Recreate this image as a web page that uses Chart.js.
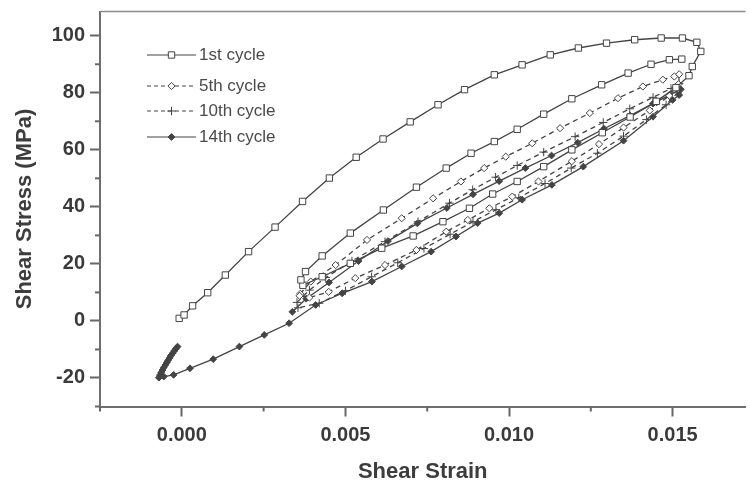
<!DOCTYPE html>
<html>
<head>
<meta charset="utf-8">
<script src="https://cdn.jsdelivr.net/npm/chart.js@4.4.1/dist/chart.umd.min.js"></script>
<style>
  html, body { margin: 0; padding: 0; background: #fff; }
  #wrap { width: 751px; height: 487px; position: relative; }
</style>
</head>
<body>
<div id="wrap"><canvas id="ch"></canvas></div>
<script>
// --- data ---
const cycleNames = ['1st cycle', '5th cycle', '10th cycle', '14th cycle'];

// 1st cycle: initial loading, unloading, reloading
const strain1 = [-0.00008, 0.00007, 0.00033, 0.00079, 0.00133, 0.00204, 0.00285, 0.00369, 0.00451, 0.00533, 0.00615, 0.00698,
  0.00783, 0.00864, 0.00955, 0.0104, 0.01126, 0.01212, 0.01298, 0.01384, 0.01465, 0.0153, 0.01574, 0.01586,
  0.0156, 0.0155, 0.0151, 0.0145, 0.0137, 0.01285, 0.01192, 0.01106, 0.01025, 0.0095, 0.00879, 0.00798, 0.00707, 0.00611, 0.00515, 0.00429, 0.0037,
  0.00364, 0.00378, 0.00429, 0.00515, 0.00616, 0.00717, 0.00808, 0.00884, 0.00955, 0.01025, 0.01106, 0.01192, 0.01283, 0.01364, 0.01434, 0.0149, 0.01528];
const stress1 = [0.9, 2.1, 5.3, 9.9, 16.1, 24.3, 32.9, 41.9, 50.1, 57.4, 63.8, 69.8,
  75.8, 81.1, 86.3, 89.8, 93.3, 95.7, 97.4, 98.6, 99.2, 99.2, 97.7, 94.5,
  89.2, 86, 81.8, 77, 71.5, 66, 60, 54.1, 48.9, 44.5, 39.5, 34.8, 29.8, 25.5, 20.2, 15.5, 12.5,
  14.4, 17.3, 22.8, 30.8, 38.9, 46.9, 53.6, 58.8, 62.9, 67.2, 72.5, 77.9, 82.8, 86.9, 90, 91.6, 91.8];

// 5th cycle
const strain5 = [0.00362, 0.00394, 0.0047, 0.00566, 0.00672, 0.00768, 0.00853, 0.00924, 0.0099, 0.01071, 0.01156, 0.01247, 0.01333, 0.01409, 0.0147, 0.01505, 0.0152,
  0.01518, 0.0149, 0.0143, 0.0135, 0.01275, 0.01192, 0.0109, 0.0101, 0.0094, 0.00874, 0.00808, 0.00717, 0.00621, 0.0053, 0.00449, 0.0039, 0.0036];
const stress5 = [9.5, 13.8, 19.6, 28.4, 36, 43, 48.9, 53.6, 57.6, 62.3, 67.6, 72.9, 78.1, 82.2, 84.6, 85.7, 86.5,
  83, 79, 73.8, 67.8, 62, 56, 48.9, 43.6, 39.5, 35.4, 31.3, 24.9, 19.6, 15, 10.2, 8.2, 8.8];

// 10th cycle
const strain10 = [0.00352, 0.0039, 0.0044, 0.0052, 0.00621, 0.00722, 0.00818, 0.00889, 0.00959, 0.01025, 0.01106, 0.01202, 0.01288, 0.01369, 0.0144, 0.01495, 0.0152,
  0.01515, 0.0148, 0.0142, 0.0135, 0.0127, 0.0119, 0.0111, 0.0103, 0.0096, 0.0089, 0.0082, 0.0074, 0.0066, 0.0058, 0.005, 0.0042, 0.00355];
const stress10 = [6.5, 10.8, 15.2, 21, 27.8, 34.8, 41.3, 46, 50.4, 54.5, 59.2, 64.6, 69.6, 74.4, 78.4, 81.5, 83.2,
  80, 75.8, 70.6, 64.8, 58.8, 53.6, 48.2, 43.2, 39, 34.8, 30.4, 25.4, 20.4, 15.5, 10.6, 6.2, 4.6];

// 14th cycle, then final unloading below zero strain
const strain14 = [0.00338, 0.0038, 0.0045, 0.0054, 0.0063, 0.0072, 0.0081, 0.0089, 0.0097, 0.0105, 0.0113, 0.0121, 0.0129, 0.0137, 0.0144, 0.0149, 0.01525,
  0.0152, 0.015, 0.0144, 0.0135, 0.01227, 0.01131, 0.0104, 0.0097, 0.00904, 0.00838, 0.00762, 0.00672, 0.00581, 0.0049, 0.00409, 0.00328,
  0.00252, 0.00176, 0.00096, 0.00025, -0.00025, -0.00055, -0.0007,
  -0.00067, -0.00063, -0.00059, -0.00055, -0.0005, -0.00046, -0.00042, -0.00037, -0.00033, -0.00028, -0.00023, -0.00018, -0.00013];
const stress14 = [3.2, 7.8, 13.5, 21, 28, 34.2, 39.6, 44.4, 49, 53.6, 58, 62.5, 67.4, 72, 76.2, 79.2, 81.2,
  79.2, 77.5, 71.6, 63.2, 54.1, 47.7, 42.5, 37.8, 34.3, 29.6, 24.3, 19.1, 13.8, 9.7, 5.6, -0.8,
  -4.9, -9, -13.4, -16.6, -18.9, -19.5, -19.9,
  -19, -18.1, -17.2, -16.3, -15.4, -14.6, -13.8, -12.9, -12.1, -11.3, -10.5, -9.7, -9];

const xTickVals = [0, 0.005, 0.010, 0.015];
const xMinorVals = [-0.0025, 0.0025, 0.0075, 0.0125];
const yTickVals = [-20, 0, 20, 40, 60, 80, 100];
const yMinorVals = [-30, -10, 10, 30, 50, 70, 90];

const INK = '#444';
const FONT = '"Liberation Sans", Arial, sans-serif';
const pts = (xs, ys) => xs.map((x, i) => ({ x, y: ys[i] }));

const datasets = [
  { label: cycleNames[0], data: pts(strain1, stress1), pointStyle: 'rect', pointRadius: 4.5, pointBackgroundColor: '#fff', borderDash: [] },
  { label: cycleNames[1], data: pts(strain5, stress5), pointStyle: 'rectRot', pointRadius: 3.6, pointBackgroundColor: '#fff', borderDash: [5, 4] },
  { label: cycleNames[2], data: pts(strain10, stress10), pointStyle: 'cross', pointRadius: 4.2, pointBackgroundColor: INK, borderDash: [5, 4] },
  { label: cycleNames[3], data: pts(strain14, stress14), pointStyle: 'rectRot', pointRadius: 3.4, pointBackgroundColor: INK, borderDash: [] },
].map(d => Object.assign(d, {
  showLine: true, borderColor: INK, borderWidth: 1.3, tension: 0,
  pointBorderColor: INK, pointBorderWidth: 1
}));

function mark(ctx, style, x, y, r, fill) {
  ctx.beginPath();
  if (style === 'rect') { const s = r * Math.SQRT1_2; ctx.rect(x - s, y - s, 2 * s, 2 * s); }
  else if (style === 'rectRot') { ctx.moveTo(x - r, y); ctx.lineTo(x, y - r); ctx.lineTo(x + r, y); ctx.lineTo(x, y + r); ctx.closePath(); }
  else { ctx.moveTo(x - r, y); ctx.lineTo(x + r, y); ctx.moveTo(x, y - r); ctx.lineTo(x, y + r); }
  if (style !== 'cross') { ctx.fillStyle = fill; ctx.fill(); }
  ctx.stroke();
}

const framePlugin = {
  id: 'frame',
  afterDraw(chart) {
    const { ctx, chartArea: a, scales: { x, y } } = chart;
    ctx.save();
    // top border
    ctx.strokeStyle = '#8c8c8c'; ctx.lineWidth = 1.5;
    ctx.beginPath(); ctx.moveTo(a.left, a.top); ctx.lineTo(a.right, a.top); ctx.stroke();
    // minor ticks
    ctx.strokeStyle = '#666'; ctx.lineWidth = 2;
    xMinorVals.forEach(v => { const px = x.getPixelForValue(v); ctx.beginPath(); ctx.moveTo(px, a.bottom); ctx.lineTo(px, a.bottom + 5); ctx.stroke(); });
    yMinorVals.forEach(v => { const py = y.getPixelForValue(v); ctx.beginPath(); ctx.moveTo(a.left - 5, py); ctx.lineTo(a.left, py); ctx.stroke(); });
    // legend
    const rows = [55, 86, 111, 137];
    ctx.font = '17px ' + FONT; ctx.textBaseline = 'middle'; ctx.textAlign = 'left';
    chart.data.datasets.forEach((d, i) => {
      const ly = rows[i];
      ctx.strokeStyle = INK; ctx.lineWidth = 1.2;
      ctx.setLineDash(d.borderDash.length ? [4, 3] : []);
      ctx.beginPath(); ctx.moveTo(147, ly); ctx.lineTo(196, ly); ctx.stroke();
      ctx.setLineDash([]); ctx.lineWidth = 1;
      mark(ctx, d.pointStyle, 171.5, ly, d.pointRadius, d.pointBackgroundColor);
      ctx.fillStyle = '#4a4a4a';
      ctx.fillText(d.label, 199, ly);
    });
    ctx.restore();
  }
};

const tickFont = { family: FONT, size: 20, weight: 'bold' };
const titleFont = { family: FONT, size: 22, weight: 'bold' };
const axisGrid = { drawOnChartArea: false, drawTicks: true, tickLength: 10, tickColor: '#666', tickWidth: 2 };
const axisBorder = { display: true, color: '#6e6e6e', width: 2 };

new Chart(document.getElementById('ch'), {
  type: 'scatter',
  data: { datasets },
  options: {
    responsive: true, maintainAspectRatio: false, animation: false,
    layout: { padding: { top: 11.5, right: 0, bottom: 0, left: 0 } },
    plugins: { legend: { display: false }, tooltip: { enabled: false } },
    scales: {
      x: {
        type: 'linear', min: -0.0025, max: 0.017227,
        afterBuildTicks: s => { s.ticks = xTickVals.map(v => ({ value: v })); },
        afterFit: s => { s.height = 80.5; s.paddingLeft = 0; s.paddingRight = 0; },
        ticks: { callback: v => v.toFixed(3), font: tickFont, color: '#3a3a3a', padding: 7, maxRotation: 0, autoSkip: false },
        grid: axisGrid, border: axisBorder,
        title: { display: true, text: 'Shear Strain', font: titleFont, color: '#3d3d3d', padding: { top: 0, bottom: 2 } }
      },
      y: {
        type: 'linear', min: -30, max: 108.5,
        afterBuildTicks: s => { s.ticks = yTickVals.map(v => ({ value: v })); },
        afterFit: s => { s.width = 100; s.paddingTop = 0; s.paddingBottom = 0; },
        ticks: { callback: v => String(v), font: tickFont, color: '#3a3a3a', padding: 5 },
        grid: axisGrid, border: axisBorder,
        title: { display: true, text: 'Shear Stress (MPa)', font: titleFont, color: '#3d3d3d', padding: { top: 12, bottom: 0 } }
      }
    }
  },
  plugins: [framePlugin]
});
</script>
</body>
</html>
